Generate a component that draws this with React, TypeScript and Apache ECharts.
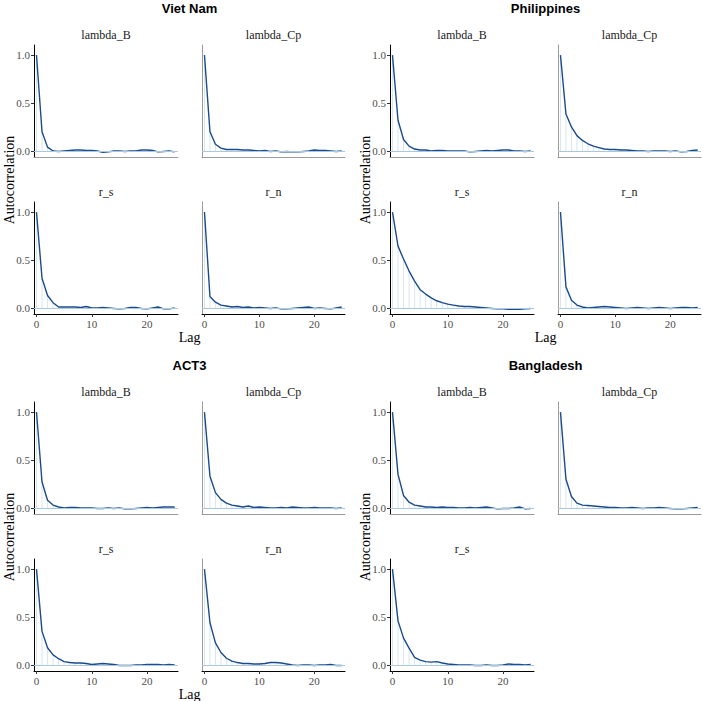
import React, { useEffect, useRef } from "react";
import * as echarts from "echarts";

const lags = [0, 1, 2, 3, 4, 5, 6, 7, 8, 9, 10, 11, 12, 13, 14, 15, 16, 17, 18, 19, 20, 21, 22, 23, 24, 25];
const groupNames = ["Viet Nam", "Philippines", "ACT3", "Bangladesh"];
const xTicks = [0, 10, 20];
const yTicks = [0, 0.5, 1.0];

const vnLambdaB = [1.0, 0.2, 0.04, 0.0, -0.005, 0.0, 0.005, 0.01, 0.01, 0.005, 0.005, 0.0, -0.015, -0.01, 0.0, 0.0, -0.005, 0.0, 0.0, 0.01, 0.01, 0.005, -0.01, -0.005, 0.0, -0.01];
const vnLambdaCp = [1.0, 0.2, 0.07, 0.03, 0.015, 0.015, 0.015, 0.01, 0.01, 0.005, 0.0, 0.005, -0.005, 0.0, -0.01, -0.005, -0.01, -0.01, -0.005, 0.0, 0.01, 0.005, 0.005, 0.0, -0.005, 0.0];
const vnRs = [1.0, 0.31, 0.13, 0.055, 0.01, 0.01, 0.01, 0.01, 0.005, 0.015, 0.0, 0.0, 0.005, 0.0, -0.005, -0.01, -0.005, 0.005, 0.005, -0.005, -0.01, 0.0, 0.01, -0.01, -0.01, 0.0];
const vnRn = [1.0, 0.12, 0.06, 0.03, 0.02, 0.01, 0.015, 0.005, 0.01, 0.0, 0.005, 0.0, -0.005, 0.0, -0.01, -0.01, -0.005, 0.0, 0.005, 0.01, -0.005, 0.0, -0.005, -0.01, 0.0, 0.01];

const phLambdaB = [1.0, 0.32, 0.12, 0.05, 0.02, 0.01, 0.01, 0.0, 0.005, 0.005, 0.0, 0.0, 0.0, 0.0, -0.01, -0.005, 0.0, 0.005, 0.0, 0.005, 0.01, 0.01, 0.0, 0.0, -0.005, 0.0];
const phLambdaCp = [1.0, 0.385, 0.25, 0.16, 0.11, 0.075, 0.05, 0.035, 0.02, 0.015, 0.015, 0.01, 0.01, 0.005, 0.0, 0.0, -0.005, 0.0, 0.0, 0.0, -0.005, 0.0, -0.01, -0.005, 0.005, 0.01];
const phRs = [1.0, 0.645, 0.51, 0.385, 0.28, 0.19, 0.145, 0.105, 0.075, 0.055, 0.04, 0.03, 0.02, 0.015, 0.015, 0.01, 0.005, 0.0, -0.005, -0.01, -0.01, -0.015, -0.015, -0.015, -0.01, -0.005];
const phRn = [1.0, 0.22, 0.08, 0.03, 0.01, 0.0, 0.005, 0.01, 0.015, 0.01, 0.005, 0.0, -0.005, 0.0, 0.005, 0.0, -0.005, 0.0, 0.005, 0.0, -0.005, 0.0, 0.005, 0.005, 0.0, 0.005];

const actLambdaB = [1.0, 0.27, 0.08, 0.03, 0.01, 0.0, 0.005, 0.005, 0.0, 0.0, 0.0, -0.005, -0.005, 0.0, -0.005, 0.0, -0.01, -0.01, -0.005, 0.0, 0.005, 0.0, 0.005, 0.01, 0.01, 0.01];
const actLambdaCp = [1.0, 0.33, 0.16, 0.09, 0.05, 0.03, 0.02, 0.01, 0.02, 0.005, 0.01, 0.005, 0.0, 0.0, 0.005, 0.0, 0.01, 0.005, 0.0, 0.0, 0.005, 0.0, 0.0, 0.0, -0.005, 0.0];
const actRs = [1.0, 0.35, 0.18, 0.105, 0.065, 0.035, 0.025, 0.02, 0.02, 0.015, 0.005, 0.01, 0.015, 0.01, 0.005, -0.005, -0.005, -0.005, 0.0, 0.0, 0.005, 0.005, 0.005, 0.0, 0.005, 0.0];
const actRn = [1.0, 0.44, 0.23, 0.13, 0.07, 0.04, 0.025, 0.015, 0.015, 0.01, 0.01, 0.015, 0.025, 0.025, 0.02, 0.01, 0.0, -0.005, 0.0, 0.0, -0.005, 0.0, 0.0, 0.005, -0.005, -0.005];

const bdLambdaB = [1.0, 0.35, 0.13, 0.06, 0.03, 0.02, 0.01, 0.01, 0.005, 0.01, 0.005, 0.005, 0.0, 0.0, 0.005, 0.0, 0.005, 0.01, 0.0, -0.01, -0.005, -0.005, 0.0, 0.01, -0.01, -0.005];
const bdLambdaCp = [1.0, 0.3, 0.12, 0.05, 0.03, 0.025, 0.02, 0.015, 0.01, 0.005, 0.005, 0.0, 0.0, 0.005, 0.0, -0.005, 0.0, 0.0, 0.005, 0.0, -0.005, -0.01, -0.01, -0.005, 0.0, 0.005];
const bdRs = [1.0, 0.46, 0.28, 0.175, 0.08, 0.05, 0.035, 0.03, 0.035, 0.02, 0.01, 0.005, 0.0, 0.0, 0.0, -0.005, -0.005, 0.0, -0.005, -0.005, 0.0, 0.01, 0.005, 0.005, 0.0, 0.005];

const panels = [
  { g: 0, title: "lambda_B", values: vnLambdaB, row: 0, col: 0 },
  { g: 0, title: "lambda_Cp", values: vnLambdaCp, row: 0, col: 1 },
  { g: 0, title: "r_s", values: vnRs, row: 1, col: 0 },
  { g: 0, title: "r_n", values: vnRn, row: 1, col: 1 },
  { g: 1, title: "lambda_B", values: phLambdaB, row: 0, col: 0 },
  { g: 1, title: "lambda_Cp", values: phLambdaCp, row: 0, col: 1 },
  { g: 1, title: "r_s", values: phRs, row: 1, col: 0 },
  { g: 1, title: "r_n", values: phRn, row: 1, col: 1 },
  { g: 2, title: "lambda_B", values: actLambdaB, row: 0, col: 0 },
  { g: 2, title: "lambda_Cp", values: actLambdaCp, row: 0, col: 1 },
  { g: 2, title: "r_s", values: actRs, row: 1, col: 0 },
  { g: 2, title: "r_n", values: actRn, row: 1, col: 1 },
  { g: 3, title: "lambda_B", values: bdLambdaB, row: 0, col: 0 },
  { g: 3, title: "lambda_Cp", values: bdLambdaCp, row: 0, col: 1 },
  { g: 3, title: "r_s", values: bdRs, row: 1, col: 0 },
];

const groupOrigins = [[0, 0], [356, 0], [0, 357], [356, 357]];
const showLag = [true, true, true, false];

const SERIF = "'Liberation Serif', 'DejaVu Serif', serif";
const SANS = "'Liberation Sans', Arial, sans-serif";

export default function App() {
  const ref = useRef<HTMLDivElement>(null);
  useEffect(() => {
    if (!ref.current) return;
    const chart = echarts.init(ref.current, null, { renderer: "svg" });
    const grids: any[] = [];
    const xAxes: any[] = [];
    const yAxes: any[] = [];
    const series: any[] = [];
    const graphics: any[] = [];

    panels.forEach((p, i) => {
      const [ox, oy] = groupOrigins[p.g];
      const left = ox + (p.col === 0 ? 34 : 202);
      const width = p.col === 0 ? 144 : 143;
      const top = oy + (p.row === 0 ? 45 : 202);
      const height = 112;
      const isBottom = p.row === 1;
      const isLeft = p.col === 0;
      grids.push({ left, top, width, height, containLabel: false });
      xAxes.push({
        type: "value",
        gridIndex: i,
        min: -0.45,
        max: 25.6,
        axisLine: { show: true, onZero: false, lineStyle: { color: isBottom ? "#000" : "#9a9a9a", width: 1 } },
        axisTick: { show: isBottom, length: 3, customValues: xTicks, lineStyle: { color: "#333" } },
        axisLabel: {
          show: isBottom,
          customValues: xTicks,
          color: "#4d4d4d",
          fontFamily: SERIF,
          fontSize: 11,
          margin: 4,
        },
        splitLine: { show: false },
      });
      yAxes.push({
        type: "value",
        gridIndex: i,
        min: -0.063,
        max: 1.105,
        axisLine: { show: true, onZero: false, lineStyle: { color: isLeft ? "#000" : "#9a9a9a", width: 1 } },
        axisTick: { show: isLeft, length: 3, customValues: yTicks, lineStyle: { color: "#333" } },
        axisLabel: {
          show: isLeft,
          customValues: yTicks,
          formatter: (v: number) => v.toFixed(1),
          color: "#4d4d4d",
          fontFamily: SERIF,
          fontSize: 11,
          margin: 4,
        },
        splitLine: { show: false },
      });
      const data = lags.map((l, k) => [l, p.values[k]]);
      series.push({
        type: "bar",
        xAxisIndex: i,
        yAxisIndex: i,
        data,
        barWidth: 1,
        itemStyle: { color: "#d7e6f3" },
        silent: true,
        z: 1,
        markLine: {
          silent: true,
          symbol: ["none", "none"],
          label: { show: false },
          lineStyle: { color: "#a9c8e2", type: "solid", width: 1 },
          data: [{ yAxis: 0 }],
        },
      });
      series.push({
        type: "line",
        xAxisIndex: i,
        yAxisIndex: i,
        data,
        showSymbol: false,
        symbol: "none",
        lineStyle: { color: "#1a4b8c", width: 1.4 },
        z: 3,
      });
      graphics.push({
        type: "text",
        x: left + width / 2,
        y: top - 10,
        style: {
          text: p.title,
          fontFamily: SERIF,
          fontSize: 12,
          fill: "#1a1a1a",
          textAlign: "center",
          textVerticalAlign: "middle",
        },
      });
    });

    groupNames.forEach((name, g) => {
      const [ox, oy] = groupOrigins[g];
      graphics.push({
        type: "text",
        x: ox + 189.5,
        y: oy + 8,
        style: {
          text: name,
          fontFamily: SANS,
          fontWeight: "bold",
          fontSize: 13,
          fill: "#000",
          textAlign: "center",
          textVerticalAlign: "middle",
        },
      });
      graphics.push({
        type: "text",
        x: ox + 9,
        y: oy + 180,
        rotation: Math.PI / 2,
        style: {
          text: "Autocorrelation",
          fontFamily: SERIF,
          fontSize: 14,
          fill: "#000",
          textAlign: "center",
          textVerticalAlign: "middle",
        },
      });
      if (showLag[g]) {
        graphics.push({
          type: "text",
          x: ox + 189.5,
          y: oy + 337,
          style: {
            text: "Lag",
            fontFamily: SERIF,
            fontSize: 14,
            fill: "#000",
            textAlign: "center",
            textVerticalAlign: "middle",
          },
        });
      }
    });

    chart.setOption({
      animation: false,
      backgroundColor: "#ffffff",
      grid: grids,
      xAxis: xAxes,
      yAxis: yAxes,
      series,
      graphic: graphics,
    });
    return () => chart.dispose();
  }, []);
  return (
    <div
      ref={ref}
      style={{ position: "fixed", left: 0, top: 0, width: 703, height: 701 }}
    />
  );
}
